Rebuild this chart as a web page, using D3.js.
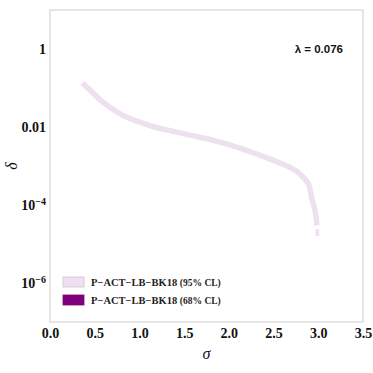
<!DOCTYPE html>
<html><head><meta charset="utf-8">
<script src="https://cdn.jsdelivr.net/npm/d3@7"></script>
<style>body{margin:0;background:#fff}svg{display:block}</style>
</head><body>
<script>
// data
const sigma = [0.36, 0.46, 0.56, 0.67, 0.78, 0.90, 1.01, 1.17, 1.37, 1.57, 1.80, 2.01, 2.20, 2.40, 2.55, 2.68, 2.79, 2.85, 2.90, 2.93, 2.955, 2.975, 2.985];
const delta = [0.134, 0.083, 0.050, 0.032, 0.0220, 0.0162, 0.0132, 0.0100, 0.0078, 0.0062, 0.0047, 0.0035, 0.0025, 0.0017, 0.00125, 0.00093, 0.00064, 0.00046, 0.00030, 0.000140, 0.000088, 0.000049, 0.000030];
const tailSigma = [2.99, 2.991];
const tailDelta = [0.000024, 0.000016];
const xTicks = [0, 0.5, 1, 1.5, 2, 2.5, 3, 3.5];
const yTicks = [1e-6, 1e-4, 1e-2, 1];
const yTickLabels = ["10^-6", "10^-4", "0.01", "1"];
const legendLabels = ["P\u2212ACT\u2212LB\u2212BK18", "P\u2212ACT\u2212LB\u2212BK18"];
const legendCL = ["(95% CL)", "(68% CL)"];
const legendColors = ["#efe0f1", "#800080"];
const lambdaText = "\u03bb = 0.076";

const W = 373, H = 373;
const m = {l: 50, r: 10, t: 10, b: 51};
const svg = d3.select("body").append("svg").attr("width", W).attr("height", H);
const x = d3.scaleLinear().domain([0, 3.5]).range([m.l, W - m.r]);
const y = d3.scaleLog().domain([1e-7, 10]).range([H - m.b, m.t]);

// frame
svg.append("rect").attr("x", m.l).attr("y", m.t).attr("width", W - m.r - m.l).attr("height", H - m.b - m.t)
  .attr("fill", "none").attr("stroke", "#d4d4d4").attr("stroke-width", 1.2);

// band
const line = d3.line().x(d => x(d[0])).y(d => y(d[1])).curve(d3.curveMonotoneX);
svg.append("path").datum(sigma.map((s, i) => [s, delta[i]]))
  .attr("d", line).attr("fill", "none").attr("stroke", legendColors[0]).attr("stroke-width", 5.5);
svg.append("path").datum(tailSigma.map((s, i) => [s, tailDelta[i]]))
  .attr("d", line).attr("fill", "none").attr("stroke", legendColors[0]).attr("stroke-width", 3.5);

// x axis
const serif = "'Liberation Serif', 'DejaVu Serif', serif";
const xAxis = d3.axisBottom(x).tickValues(xTicks).tickFormat(d3.format(".1f")).tickSize(0).tickPadding(6);
const gx = svg.append("g").attr("transform", `translate(0,${H - m.b})`).call(xAxis);
gx.select(".domain").remove();
gx.selectAll("text").attr("font-family", serif).attr("font-weight", "bold").attr("font-size", 14).attr("fill", "#111");

// y axis
const yAxis = d3.axisLeft(y).tickValues(yTicks).tickFormat("").tickSize(0);
const gy = svg.append("g").attr("transform", `translate(${m.l},0)`).call(yAxis);
gy.select(".domain").remove();
gy.selectAll(".tick").each(function(d, i) {
  const t = d3.select(this).select("text").attr("x", -4).attr("dy", "0.32em")
    .attr("font-family", serif).attr("font-weight", "bold").attr("font-size", 14).attr("fill", "#111")
    .attr("text-anchor", "end");
  const lab = yTickLabels[i];
  if (lab.startsWith("10^")) {
    t.append("tspan").text("10");
    t.append("tspan").attr("dy", "-0.45em").attr("font-size", 10).text(lab.slice(3).replace("-", "\u2212"));
  } else t.text(lab);
});

// axis titles
svg.append("text").attr("x", x(1.75)).attr("y", 359).attr("text-anchor", "middle")
  .attr("font-family", serif).attr("font-style", "italic").attr("font-size", 16).attr("fill", "#111").text("\u03c3");
svg.append("text").attr("transform", `translate(17,${(m.t + H - m.b) / 2}) rotate(-90)`).attr("text-anchor", "middle")
  .attr("font-family", serif).attr("font-style", "italic").attr("font-size", 16).attr("fill", "#111").text("\u03b4");

// lambda
svg.append("text").attr("x", 343).attr("y", 53).attr("text-anchor", "end")
  .attr("font-family", "'Liberation Sans', Arial, sans-serif").attr("font-weight", "bold").attr("font-size", 11.5)
  .attr("fill", "#111").text(lambdaText);

// legend
legendLabels.forEach((lab, i) => {
  const yy = 277 + i * 18;
  svg.append("rect").attr("x", 63).attr("y", yy).attr("width", 21).attr("height", 10)
    .attr("fill", legendColors[i]).attr("stroke", i === 0 ? "#cfc3d1" : legendColors[i]).attr("stroke-width", 0.8);
  const t = svg.append("text").attr("x", 91).attr("y", yy + 8.5).attr("font-family", serif).attr("font-weight", "bold")
    .attr("font-size", 10.5).attr("fill", "#222");
  t.append("tspan").text(lab + " ");
  t.append("tspan").attr("font-size", 9.5).text(legendCL[i]);
});
</script>
</body></html>
